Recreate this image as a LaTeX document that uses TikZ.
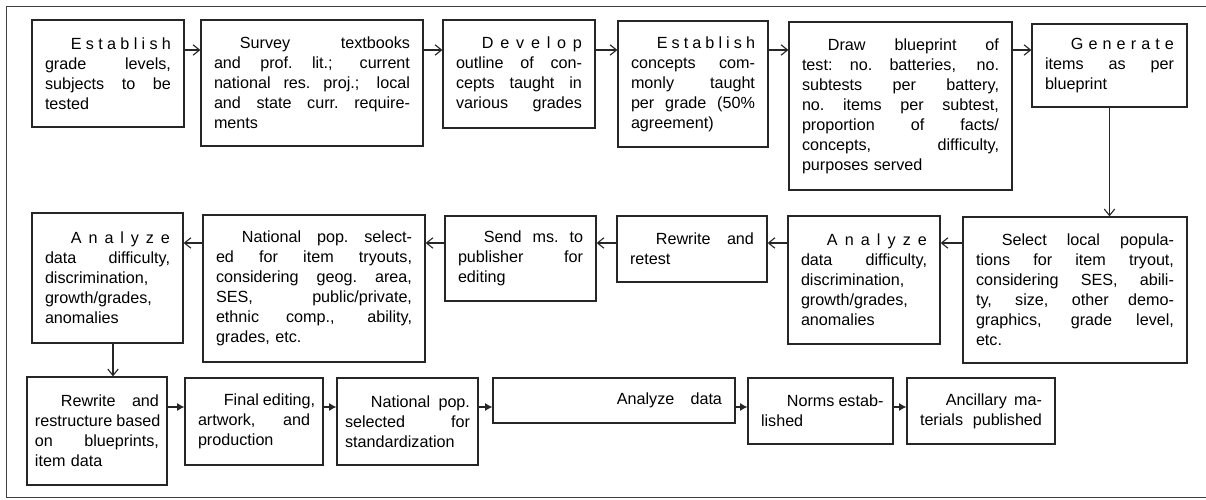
\documentclass[tikz,border=0pt]{standalone}
\usepackage{fontspec}
\newfontfamily\boxfont{Liberation Sans}
\usepackage{tikz}
\usetikzlibrary{arrows.meta}
% one justified line, and the indented first line
\newcommand{\jline}[1]{\hbox to\hsize{\spaceskip=0.25em plus 1fil\xspaceskip=0.25em plus 1fil\relax #1}\par}
\newcommand{\jfirst}[1]{\jline{\hspace*{1.6em}#1}}

\begin{document}
\begin{tikzpicture}[
  stagebox/.style={
    draw=black!85, line width=0.9pt, align=left,
    inner xsep=0.325cm, inner ysep=0.1cm,
    font=\boxfont\fontsize{11.5}{14.2}\selectfont
  },
  arrow/.style={-{Straight Barb[length=1.6mm, width=2.6mm]}, line width=0.8pt, draw=black!85},
  fwdarrow/.style={-{Latex[length=1.8mm, width=2mm]}, line width=0.8pt, draw=black!85}
]
\useasboundingbox (0,0) rectangle (30.15,-12.5);
\draw[line width=0.6pt, draw=black!75] (30.15,-0.15) -- (0.15,-0.15) -- (0.15,-12.425) -- (30.15,-12.425);

% first row
\node[stagebox, text width=3.15cm, minimum height=2.675cm] (est) at (2.70,-1.8375) {%
  \jfirst{E\hfil s\hfil t\hfil a\hfil b\hfil l\hfil i\hfil s\hfil h}
  \jline{grade levels,}
  \jline{subjects to be}
  tested};
\node[stagebox, text width=4.90cm, minimum height=3.15cm] (survey) at (7.80,-2.075) {%
  \jfirst{Survey textbooks}
  \jline{and prof. lit.; current}
  \jline{national res. proj.; local}
  \jline{and state curr. require-}
  ments};
\node[stagebox, text width=3.15cm, minimum height=2.70cm] (outline) at (12.975,-1.85) {%
  \jfirst{D\hfil e\hfil v\hfil e\hfil l\hfil o\hfil p}
  \jline{outline of con-}
  \jline{cepts taught in}
  \jline{various grades}};
\node[stagebox, text width=3.10cm, minimum height=3.15cm] (concepts) at (17.325,-2.10) {%
  \jfirst{E\hfil s\hfil t\hfil a\hfil b\hfil l\hfil i\hfil s\hfil h}
  \jline{concepts com-}
  \jline{monly taught}
  \jline{per grade (50\%}
  agreement)};
\node[stagebox, text width=4.925cm, minimum height=4.20cm] (blueprint) at (22.5125,-2.65) {%
  \jfirst{Draw blueprint of}
  \jline{test: no. batteries, no.}
  \jline{subtests per battery,}
  \jline{no. items per subtest,}
  \jline{proportion of facts/}
  \jline{concepts, difficulty,}
  purposes served};
\node[stagebox, text width=3.225cm, minimum height=2.075cm] (generate) at (27.7375,-1.6375) {%
  \jfirst{G\hfil e\hfil n\hfil e\hfil r\hfil a\hfil t\hfil e}
  \jline{items as per}
  blueprint};

% second row, right to left
\node[stagebox, text width=4.95cm, minimum height=3.65cm] (select) at (26.875,-7.25) {%
  \jfirst{Select local popula-}
  \jline{tions for item tryout,}
  \jline{considering SES, abili-}
  \jline{ty, size, other demo-}
  \jline{graphics, grade level,}
  etc.};
\node[stagebox, text width=3.15cm, minimum height=3.20cm] (analyzeloc) at (21.60,-7.00) {%
  \jfirst{A\hfil n\hfil a\hfil l\hfil y\hfil z\hfil e}
  \jline{data difficulty,}
  \jline{discrimination,}
  \jline{growth/grades,}
  anomalies};
\node[stagebox, text width=3.10cm, minimum height=1.65cm] (retest) at (17.30,-6.225) {%
  \jfirst{Rewrite and}
  retest};
\node[stagebox, text width=3.125cm, minimum height=2.125cm] (sendms) at (13.0125,-6.4625) {%
  \jfirst{Send ms. to}
  \jline{publisher for}
  editing};
\node[stagebox, text width=4.90cm, minimum height=3.675cm] (natpop) at (7.85,-7.2125) {%
  \jfirst{National pop. select-}
  \jline{ed for item tryouts,}
  \jline{considering geog. area,}
  \jline{SES, public/private,}
  \jline{ethnic comp., ability,}
  grades, etc.};
\node[stagebox, text width=3.125cm, minimum height=3.25cm] (analyzenat) at (2.6875,-6.95) {%
  \jfirst{A\hfil n\hfil a\hfil l\hfil y\hfil z\hfil e}
  \jline{data difficulty,}
  \jline{discrimination,}
  \jline{growth/grades,}
  anomalies};

% third row
\node[stagebox, inner xsep=0.2cm, text width=3.10cm, minimum height=2.70cm] (restructure) at (2.425,-10.775) {%
  \jfirst{Rewrite and}
  \jline{restructure based}
  \jline{on blueprints,}
  item data};
\node[stagebox, text width=2.80cm, minimum height=2.175cm] (final) at (6.35,-10.5375) {%
  \jfirst{Final editing,}
  \jline{artwork, and}
  production};
\node[stagebox, inner xsep=0.2cm, text width=3.125cm, minimum height=2.175cm] (standard) at (10.1875,-10.5375) {%
  \jfirst{National pop.}
  \jline{selected for}
  \jline{standardization}};
\node[stagebox, text width=5.40cm, minimum height=1.125cm] (analyze) at (15.35,-10.0125) {%
  \jline{\hfill Analyze\hspace{1em}data}};
\node[stagebox, text width=2.975cm, minimum height=1.65cm] (norms) at (20.5125,-10.275) {%
  \jfirst{Norms estab-}
  lished};
\node[stagebox, text width=3.05cm, minimum height=1.65cm] (ancillary) at (24.525,-10.275) {%
  \jfirst{Ancillary ma-}
  \jline{terials published}};

\coordinate (r1) at (0,-1.25);
\coordinate (r2) at (0,-6.075);
\coordinate (r3) at (0,-10.175);
\coordinate (dn) at (2.825,0);

\draw[arrow] (est.east |- r1) -- (survey.west |- r1);
\draw[arrow] (survey.east |- r1) -- (outline.west |- r1);
\draw[arrow] (outline.east |- r1) -- (concepts.west |- r1);
\draw[arrow] (concepts.east |- r1) -- (blueprint.west |- r1);
\draw[arrow] (blueprint.east |- r1) -- (generate.west |- r1);
\draw[arrow] (generate.south) -- (generate.south |- select.north);
\draw[arrow] (select.west |- r2) -- (analyzeloc.east |- r2);
\draw[arrow] (analyzeloc.west |- r2) -- (retest.east |- r2);
\draw[arrow] (retest.west |- r2) -- (sendms.east |- r2);
\draw[arrow] (sendms.west |- r2) -- (natpop.east |- r2);
\draw[arrow] (natpop.west |- r2) -- (analyzenat.east |- r2);
\draw[arrow] (analyzenat.south -| dn) -- (restructure.north -| dn);
\draw[fwdarrow] (restructure.east |- r3) -- (final.west |- r3);
\draw[fwdarrow] (final.east |- r3) -- (standard.west |- r3);
\draw[fwdarrow] (standard.east |- r3) -- (analyze.west |- r3);
\draw[fwdarrow] (analyze.east |- r3) -- (norms.west |- r3);
\draw[fwdarrow] (norms.east |- r3) -- (ancillary.west |- r3);
\end{tikzpicture}
\end{document}
